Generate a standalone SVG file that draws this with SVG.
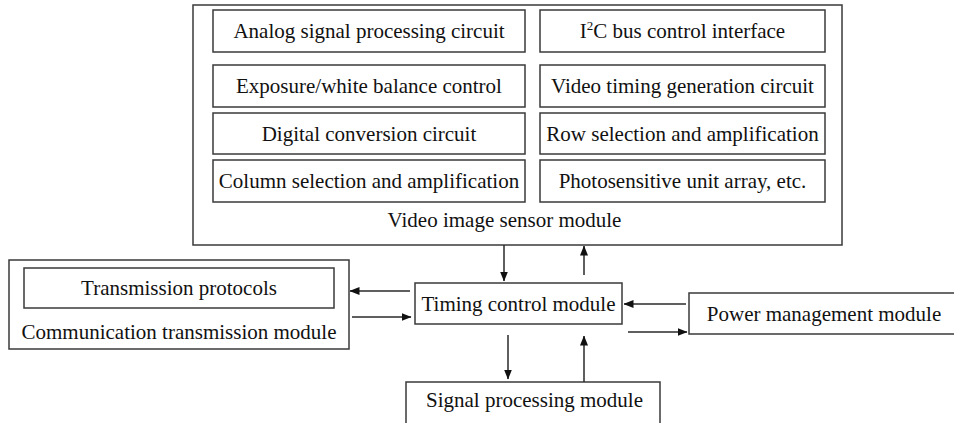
<svg xmlns="http://www.w3.org/2000/svg" width="954" height="423" viewBox="0 0 954 423">
  <style>
    .box { fill: #ffffff; stroke: #3a3a3a; stroke-width: 1.5; }
    .lbl { font-family: "Liberation Serif", "Times New Roman", serif; font-size: 21px; fill: #111111; text-anchor: middle; }
    .conn { stroke: #2a2a2a; stroke-width: 1.5; fill: none; marker-end: url(#arrow); }
  </style>
  <defs>
    <marker id="arrow" viewBox="0 0 10 8" refX="9.5" refY="4" markerWidth="10" markerHeight="8" markerUnits="userSpaceOnUse" orient="auto">
      <path d="M0,0 L10,4 L0,8 Z" fill="#111111"/>
    </marker>
  </defs>

  <rect width="954" height="423" fill="#ffffff"/>

  <!-- Video image sensor module with its sub-blocks -->
  <g id="sensor-module">
    <rect class="box" x="193" y="5" width="649" height="240"/>
    <text class="lbl" x="504.5" y="227">Video image sensor module</text>
  </g>
  <g id="analog-signal">
    <rect class="box" x="213" y="10" width="312" height="42"/>
    <text class="lbl" x="369" y="38">Analog signal processing circuit</text>
  </g>
  <g id="i2c-interface">
    <rect class="box" x="540" y="10" width="285" height="42"/>
    <text class="lbl" x="682.5" y="38">I<tspan font-size="13" dy="-8">2</tspan><tspan dy="8">C bus control interface</tspan></text>
  </g>
  <g id="exposure-control">
    <rect class="box" x="213" y="65" width="312" height="42"/>
    <text class="lbl" x="369" y="93">Exposure/white balance control</text>
  </g>
  <g id="video-timing">
    <rect class="box" x="540" y="65" width="285" height="42"/>
    <text class="lbl" x="682.5" y="93">Video timing generation circuit</text>
  </g>
  <g id="digital-conversion">
    <rect class="box" x="213" y="113" width="312" height="41"/>
    <text class="lbl" x="369" y="140.5">Digital conversion circuit</text>
  </g>
  <g id="row-selection">
    <rect class="box" x="540" y="113" width="285" height="41"/>
    <text class="lbl" x="682.5" y="140.5">Row selection and amplification</text>
  </g>
  <g id="column-selection">
    <rect class="box" x="213" y="160" width="312" height="42"/>
    <text class="lbl" x="369" y="188">Column selection and amplification</text>
  </g>
  <g id="photosensitive-array">
    <rect class="box" x="540" y="160" width="285" height="42"/>
    <text class="lbl" x="682.5" y="188">Photosensitive unit array, etc.</text>
  </g>

  <!-- Communication transmission module -->
  <g id="comm-module">
    <rect class="box" x="9" y="260" width="340" height="89"/>
    <text class="lbl" x="179" y="339">Communication transmission module</text>
  </g>
  <g id="transmission-protocols">
    <rect class="box" x="24" y="268" width="310" height="40"/>
    <text class="lbl" x="179" y="295">Transmission protocols</text>
  </g>

  <!-- Timing control module -->
  <g id="timing-control">
    <rect class="box" x="415" y="283" width="207" height="41"/>
    <text class="lbl" x="518.5" y="310.5">Timing control module</text>
  </g>

  <!-- Power management module (runs off the right edge) -->
  <g id="power-management">
    <rect class="box" x="689" y="293" width="280" height="41"/>
    <text class="lbl" x="824" y="320.5">Power management module</text>
  </g>

  <!-- Signal processing module (runs off the bottom edge) -->
  <g id="signal-processing">
    <rect class="box" x="406" y="382" width="254" height="60"/>
    <text class="lbl" x="534.5" y="407">Signal processing module</text>
  </g>

  <!-- Connectors -->
  <g id="connectors">
    <line class="conn" x1="504" y1="245" x2="504" y2="281"/>
    <line class="conn" x1="584" y1="275" x2="584" y2="246"/>
    <line class="conn" x1="410" y1="291" x2="350" y2="291"/>
    <line class="conn" x1="352" y1="317" x2="411" y2="317"/>
    <line class="conn" x1="686" y1="304" x2="624" y2="304"/>
    <line class="conn" x1="628" y1="332" x2="687" y2="332"/>
    <line class="conn" x1="508" y1="335" x2="508" y2="379"/>
    <line class="conn" x1="584" y1="382" x2="584" y2="336"/>
  </g>
</svg>
